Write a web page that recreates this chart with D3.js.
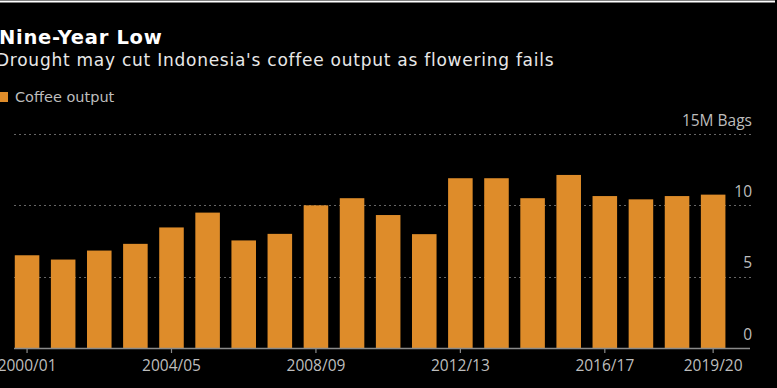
<!DOCTYPE html>
<html>
<head>
<meta charset="utf-8">
<script src="https://cdn.jsdelivr.net/npm/d3@7"></script>
<style>
  html, body { margin: 0; padding: 0; background: #000; }
  svg { display: block; }
</style>
</head>
<body>
<svg id="chart" width="777" height="388"></svg>
<script>
const seasons = ["2000/01","2001/02","2002/03","2003/04","2004/05","2005/06","2006/07","2007/08","2008/09","2009/10",
                 "2010/11","2011/12","2012/13","2013/14","2014/15","2015/16","2016/17","2017/18","2018/19","2019/20"];
const output = [6.5, 6.2, 6.83, 7.3, 8.45, 9.49, 7.54, 8.0, 10.0, 10.5,
                9.32, 7.98, 11.9, 11.9, 10.5, 12.13, 10.65, 10.42, 10.65, 10.75];
const xTickLabels = ["2000/01","2004/05","2008/09","2012/13","2016/17","2019/20"];
const yTicks = [0, 5, 10, 15];
const title = "Nine-Year Low";
const subtitle = "Drought may cut Indonesia's coffee output as flowering fails";
const legendLabel = "Coffee output";
const unitLabel = "M Bags";

const W = 777, H = 388;
const svg = d3.select("#chart");
svg.append("rect").attr("width", W).attr("height", H).attr("fill", "#000");
svg.append("line").attr("x1", 0).attr("x2", 775).attr("y1", 1.5).attr("y2", 1.5)
  .attr("stroke", "#fff").attr("stroke-width", 2);

const x = d3.scaleBand().domain(seasons).range([9, 731.2]).paddingInner(0.32).paddingOuter(0.16);
const y = d3.scaleLinear().domain([0, 15]).range([348, 134]);

// gridlines
svg.append("g").selectAll("line").data(yTicks.filter(d => d > 0)).join("line")
  .attr("x1", 14).attr("x2", 752)
  .attr("y1", d => Math.round(y(d)) + 0.5).attr("y2", d => Math.round(y(d)) + 0.5)
  .attr("stroke", "#666").attr("stroke-width", 1).attr("stroke-dasharray", "2,3");

// bars
svg.append("g").selectAll("rect").data(seasons).join("rect")
  .attr("x", d => x(d)).attr("width", x.bandwidth())
  .attr("y", (d, i) => y(output[i])).attr("height", (d, i) => y(0) - y(output[i]))
  .attr("fill", "#DE8C2A");

// x axis
const xAxis = d3.axisBottom(x).tickValues(xTickLabels).tickSize(5).tickPadding(7).tickSizeOuter(0);
const gx = svg.append("g").attr("transform", `translate(0,${y(0)})`).call(xAxis);
gx.select(".domain").remove();
gx.append("line").attr("x1", 14).attr("x2", 750).attr("y1", 0.5).attr("y2", 0.5)
  .attr("stroke", "#8a8a8a").attr("stroke-width", 1.5);
gx.selectAll(".tick line").attr("stroke", "#8a8a8a").attr("stroke-width", 1.2);
gx.selectAll(".tick text").attr("fill", "#bdbdbd")
  .style("font-family", "'Open Sans', sans-serif").style("font-size", "15.5px");

// y axis labels
const yAxis = d3.axisLeft(y).tickValues(yTicks).tickSize(0).tickPadding(0)
  .tickFormat(d => d === 15 ? d + unitLabel : d);
const gy = svg.append("g").attr("transform", "translate(752,0)").call(yAxis);
gy.select(".domain").remove();
gy.selectAll(".tick text").attr("fill", "#bdbdbd")
  .style("font-family", "'Open Sans', sans-serif").style("font-size", "15.5px")
  .attr("dy", -9).attr("text-anchor", "end");

// titles
svg.append("text").attr("x", -1).attr("y", 44).text(title)
  .style("font-family", "'DejaVu Sans', sans-serif").style("font-size", "19.5px").style("font-weight", "bold")
  .style("letter-spacing", "0.7px")
  .attr("fill", "#fff");
svg.append("text").attr("x", -4).attr("y", 66).text(subtitle)
  .style("font-family", "'DejaVu Sans', sans-serif").style("font-size", "17px")
  .style("letter-spacing", "0.75px")
  .attr("fill", "#e8e8e8");

// legend
svg.append("rect").attr("x", -1).attr("y", 92).attr("width", 9).attr("height", 10).attr("fill", "#DE8C2A");
svg.append("text").attr("x", 15).attr("y", 102).text(legendLabel)
  .style("font-family", "'DejaVu Sans', sans-serif").style("font-size", "14.5px")
  .attr("fill", "#bdbdbd");
</script>
</body>
</html>
